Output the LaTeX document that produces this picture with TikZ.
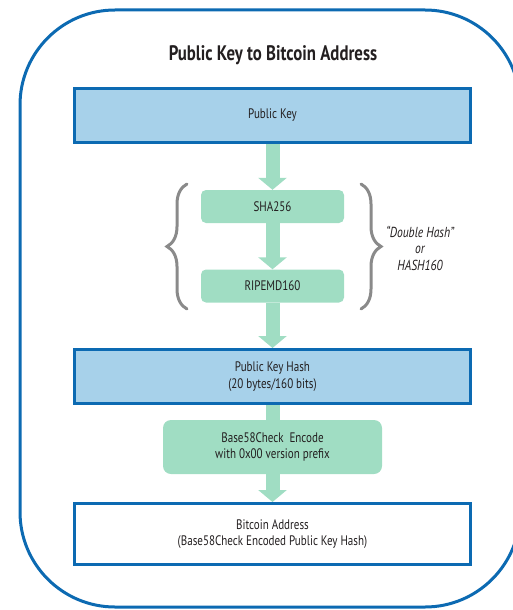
\documentclass[tikz,border=0pt]{standalone}
\usepackage{fontspec}
\setmainfont{PT Sans}[FakeStretch=0.8]
\usetikzlibrary{arrows.meta, backgrounds, decorations.pathreplacing}
\definecolor{frameblue}{RGB}{12,106,178}
\definecolor{keyblue}{RGB}{167,209,234}
\definecolor{hashgreen}{RGB}{160,221,195}
\definecolor{bracegray}{RGB}{138,138,138}
\definecolor{inkgray}{RGB}{35,31,32}

\begin{document}
\begin{tikzpicture}[x=1pt, y=-1pt,
			keybox/.style={draw=frameblue, line width=3pt, fill=keyblue, text=inkgray, minimum width=396pt, minimum height=54pt, align=center, font=\fontsize{13.8}{16.5}\selectfont},
			hashbox/.style={fill=hashgreen, rounded corners=5pt, text=inkgray, minimum width=143pt, minimum height=33pt, align=center, font=\fontsize{13.8}{15.5}\selectfont},
			flowline/.style={draw=hashgreen, line width=14pt},
			flow/.style={flowline, -{Triangle[length=12pt, width=28pt]}},
			curly/.style={draw=bracegray, line width=3pt, line cap=round, decorate, decoration={brace, amplitude=20pt}},
			text=inkgray]
			% Bildbereich
			\useasboundingbox (0,0) rectangle (512,610);
			% Rahmen
			\draw[frameblue, line width=3pt, rounded corners=95pt] (20,10) rectangle (520,607);
			\node[font=\bfseries\fontsize{21}{24}\selectfont] (title) at (273,55) {Public Key to Bitcoin Address};
			% Kaesten
			\node[keybox] (pubkey) at (272.5,115.5) {Public Key};
			\node[hashbox] (sha) at (272.5,206.5) {SHA256};
			\node[hashbox] (ripemd) at (272.5,286) {RIPEMD160};
			\node[keybox] (pkhash) at (272.5,376.5) {Public Key Hash\\(20 bytes/160 bits)};
			\node[hashbox, minimum width=219pt, minimum height=54pt, rounded corners=8pt] (encode) at (272.5,447) {Base58Check\ \ Encode\\with 0x00 version prefix};
			\node[keybox, fill=white, minimum height=61pt] (address) at (272.5,534) {Bitcoin Address\\(Base58Check Encoded Public Key Hash)};
			% Klammern
			\draw[curly] (187,309) -- (187,184);
			\draw[curly] (361,184) -- (361,309);
			\node[font=\itshape\fontsize{14.5}{16.5}\selectfont, align=center] (dhash) at (420,248) {“Double Hash”\\or\\HASH160};
			% Pfeile
			\begin{scope}[on background layer]
				\draw[flow] (pubkey) -- (sha);
				\draw[flow] (sha) -- (ripemd);
				\draw[flow] (ripemd) -- (pkhash);
				\draw[flowline] (pkhash) -- (encode);
				\draw[flow] (encode) -- (address);
			\end{scope}
		\end{tikzpicture}
\end{document}
